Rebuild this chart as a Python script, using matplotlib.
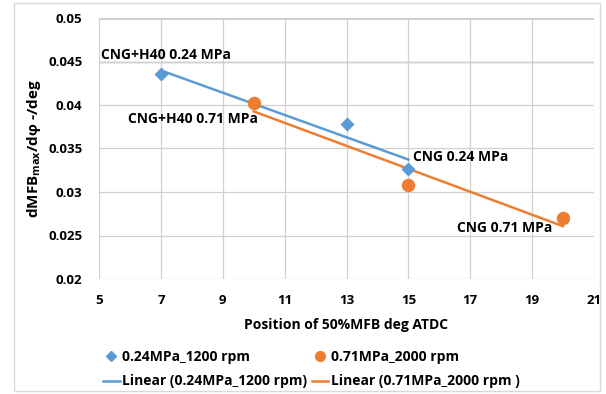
import numpy as np
import matplotlib.pyplot as plt
from matplotlib.lines import Line2D
from matplotlib.patches import Rectangle

# data
pos_024 = [7, 13, 15]
dmfb_024 = [0.0436, 0.0378, 0.0326]
pos_071 = [10, 15, 20]
dmfb_071 = [0.0402, 0.0308, 0.0270]

labels = ["CNG+H40 0.24 MPa", "CNG+H40 0.71 MPa", "CNG 0.24 MPa", "CNG 0.71 MPa"]
xticks = [5, 7, 9, 11, 13, 15, 17, 19, 21]
yticks = [0.02, 0.025, 0.03, 0.035, 0.04, 0.045, 0.05]

blue = "#5b9bd5"
orange = "#ed7d31"

plt.rcParams["font.family"] = ["Open Sans", "DejaVu Sans"]
plt.rcParams["font.weight"] = "bold"

fig = plt.figure(figsize=(6.06, 3.94), dpi=100)
fig.patches.append(Rectangle((14 / 606, 3 / 394), 586 / 606, 388 / 394,
                             transform=fig.transFigure, fill=False,
                             edgecolor="#d9d9d9", linewidth=1))
ax = fig.add_axes([99 / 606, 1 - 279 / 394, 495 / 606, 261 / 394])

# trend lines
k1, b1 = np.polyfit(pos_024, dmfb_024, 1)
k2, b2 = np.polyfit(pos_071, dmfb_071, 1)
xl1 = np.array([min(pos_024), max(pos_024)])
xl2 = np.array([min(pos_071), max(pos_071)])
ax.plot(xl1, k1 * xl1 + b1, color=blue, linewidth=1.8, zorder=3)
ax.plot(xl2, k2 * xl2 + b2, color=orange, linewidth=1.8, zorder=3)

ax.scatter(pos_024, dmfb_024, marker="D", s=38, color=blue, zorder=4)
ax.scatter(pos_071, dmfb_071, marker="o", s=75, color=orange, zorder=4)

ax.set_xlim(5, 21)
ax.set_ylim(0.02, 0.05)
ax.set_xticks(xticks)
ax.set_yticks(yticks)
ax.set_xticklabels([str(t) for t in xticks], fontsize=9.5, fontweight="bold")
ax.set_yticklabels([f"{t:g}" for t in yticks], fontsize=9.5, fontweight="bold")
ax.grid(True, color="#d0d0d0", linewidth=0.9)
ax.axhline(0.045, color="#808080", linewidth=0.9, zorder=1)
ax.axhline(0.05, color="black", linewidth=1.0, zorder=1)
for s in ax.spines.values():
    s.set_visible(False)
ax.tick_params(axis="y", length=0, pad=12)
ax.tick_params(axis="x", length=0, pad=11)

ax.set_xlabel("Position of 50%MFB deg ATDC", fontsize=10, fontweight="bold", labelpad=8)
ax.set_ylabel(r"dMFB$_{\mathregular{max}}$/dφ -/deg", fontsize=11, fontweight="bold")

ax.text(5.08, 0.0449, labels[0], fontsize=10, fontweight="bold", ha="left", va="bottom")
ax.text(10.13, 0.0384, labels[1], fontsize=10, fontweight="bold", ha="right", va="center")
ax.text(15.16, 0.0340, labels[2], fontsize=10, fontweight="bold", ha="left", va="center")
ax.text(19.65, 0.0259, labels[3], fontsize=10, fontweight="bold", ha="right", va="center")

handles = [
    Line2D([], [], marker="D", color=blue, linestyle="none", markersize=5),
    Line2D([], [], color=blue, linewidth=1.8),
    Line2D([], [], marker="o", color=orange, linestyle="none", markersize=7),
    Line2D([], [], color=orange, linewidth=1.8),
]
names = ["0.24MPa_1200 rpm", "Linear (0.24MPa_1200 rpm)",
         "0.71MPa_2000 rpm", "Linear (0.71MPa_2000 rpm )"]
fig.legend(handles, names, ncol=2, loc="upper left",
           bbox_to_anchor=(103 / 606, 1 - 350 / 394), borderpad=0, borderaxespad=0,
           frameon=False, handlelength=1.2, handletextpad=0.2,
           columnspacing=0.3, labelspacing=0.75, prop={"weight": "bold", "size": 10})

fig.savefig("out.png", dpi=100)
